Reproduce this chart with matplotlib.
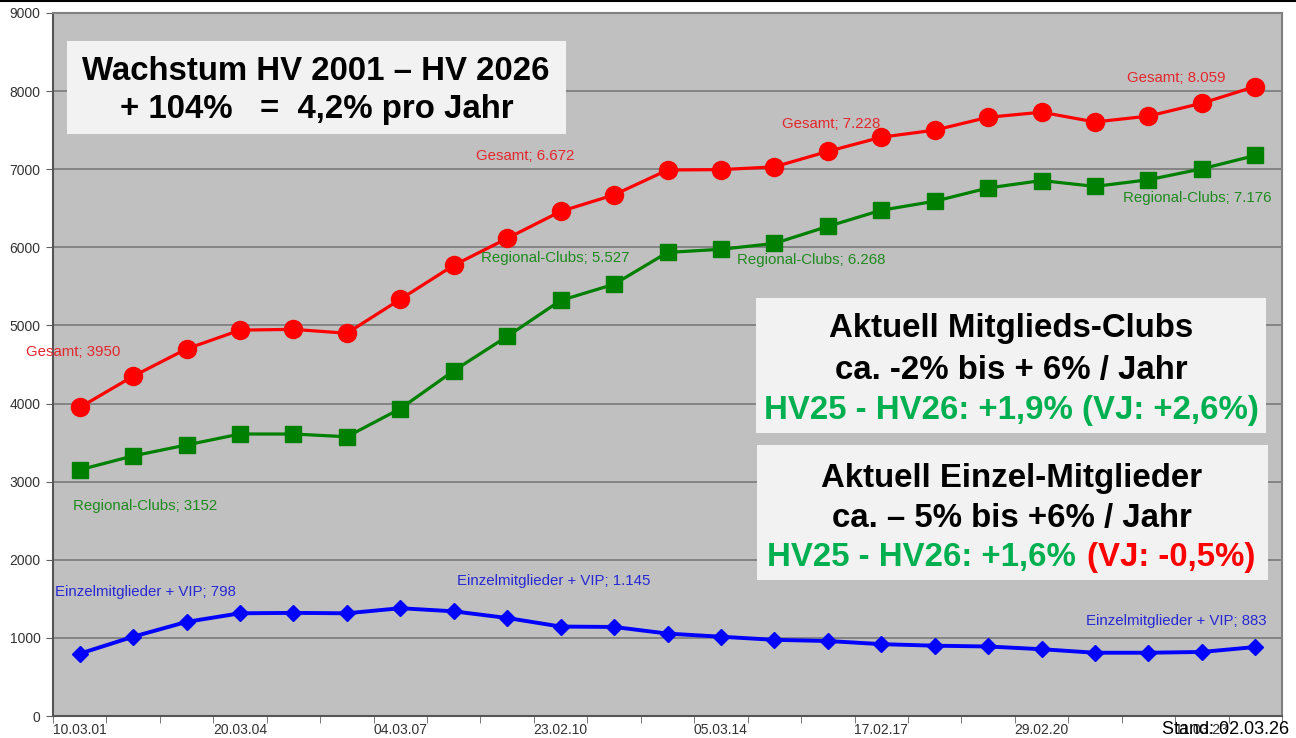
import matplotlib
matplotlib.use('Agg')
import matplotlib.pyplot as plt
from matplotlib.patches import Rectangle
from matplotlib.lines import Line2D

# Daten
gesamt = [3950, 4350, 4700, 4940, 4950, 4900, 5335, 5770, 6115, 6460, 6672,
          6990, 6995, 7030, 7228, 7410, 7500, 7665, 7730, 7605, 7680, 7845, 8059]
regional = [3152, 3330, 3470, 3610, 3610, 3575, 3935, 4420, 4860, 5320, 5527,
            5935, 5975, 6050, 6268, 6475, 6590, 6760, 6855, 6780, 6865, 7005, 7176]
einzel = [798, 1015, 1205, 1315, 1320, 1315, 1380, 1340, 1255, 1145, 1140,
          1055, 1015, 975, 960, 920, 900, 890, 855, 810, 810, 820, 883]
x_labels = ['10.03.01', '20.03.04', '04.03.07', '23.02.10',
            '05.03.14', '17.02.17', '29.02.20', '11.03.23']
y_ticks = [0, 1000, 2000, 3000, 4000, 5000, 6000, 7000, 8000, 9000]

W, H = 1296, 738
FONT = ['Liberation Sans', 'DejaVu Sans']
plt.rcParams['font.family'] = FONT

fig = plt.figure(figsize=(W / 100, H / 100), dpi=100)
ax = fig.add_axes([53 / W, 22 / H, 1229 / W, 703 / H])
ax.set_facecolor('#c0c0c0')

n = len(gesamt)
xs = list(range(n))

ax.plot(xs, gesamt, color='#ff0000', lw=2.3, marker='o', ms=13, zorder=4)
ax.plot(xs, regional, color='#008000', lw=2.3, marker='s', ms=11, zorder=4)
ax.plot(xs, einzel, color='#0000ff', lw=2.8, marker='D', ms=8, zorder=4)

ax.set_xlim(-0.5, n - 0.5)
ax.set_ylim(0, 9000)
ax.set_yticks(y_ticks)
ax.set_yticklabels([str(v) for v in y_ticks])
ax.set_xticks(range(0, n, 3))
ax.set_xticklabels(x_labels)
ax.set_xticks([i - 0.5 for i in range(n + 1)], minor=True)
ax.tick_params(axis='x', which='major', length=0, pad=5, labelsize=10, labelcolor='#333333')
ax.tick_params(axis='x', which='minor', length=5, color='#606060', direction='out')
ax.tick_params(axis='y', length=5, color='#606060', pad=4, labelsize=10, labelcolor='#333333')
ax.grid(axis='y', color='#7a7a7a', lw=1.2, zorder=1)
ax.set_axisbelow(True)
for side in ['left', 'bottom']:
    ax.spines[side].set_color('#555555')
    ax.spines[side].set_linewidth(1.5)
for side in ['top', 'right']:
    ax.spines[side].set_color('#808080')
    ax.spines[side].set_linewidth(1.5)


def fmt(i, v):
    return str(v) if i == 0 else f'{v:,}'.replace(',', '.')


series = {'Gesamt': (gesamt, '#e4262c'),
          'Regional-Clubs': (regional, '#1f8a1f'),
          'Einzelmitglieder + VIP': (einzel, '#2828d4')}

# Datenbeschriftungen: (Reihe, Index, dx, dy) in Pixel
spots = [('Gesamt', 0, -7, 55), ('Regional-Clubs', 0, 65, -36), ('Einzelmitglieder + VIP', 0, 66, 62),
         ('Gesamt', 10, -89, 39), ('Regional-Clubs', 10, -59, 26), ('Einzelmitglieder + VIP', 9, -7, 46),
         ('Gesamt', 14, 3, 27), ('Regional-Clubs', 14, -17, -34),
         ('Gesamt', 22, -79, 9), ('Regional-Clubs', 22, -58, -43), ('Einzelmitglieder + VIP', 22, -79, 26)]
for name, i, dx, dy in spots:
    vals, col = series[name]
    ax.annotate(f'{name}; {fmt(i, vals[i])}', xy=(i, vals[i]), xytext=(dx, dy),
                textcoords='offset pixels', ha='center', va='center',
                fontsize=10.8, color=col, zorder=5)


def box(x0, y0, x1, y1):
    fig.add_artist(Rectangle((x0 / W, 1 - y1 / H), (x1 - x0) / W, (y1 - y0) / H,
                             transform=fig.transFigure, facecolor='#f2f2f2',
                             edgecolor='none', zorder=5))


def line(x, y, s, color='black', ha='center', size=23.8):
    return fig.text(x / W, 1 - y / H, s, ha=ha, va='baseline', fontsize=size,
                    fontweight='bold', color=color, zorder=6)


box(67, 41, 566, 134)
line(316, 80, 'Wachstum HV 2001 – HV 2026')
line(317, 118, '+ 104%   =  4,2% pro Jahr')

box(756, 298, 1266, 433)
line(1011, 337, 'Aktuell Mitglieds-Clubs')
line(1011, 379, 'ca. -2% bis + 6% / Jahr')
line(1011, 419, 'HV25 - HV26: +1,9% (VJ: +2,6%)', color='#00b050')

box(757, 445, 1268, 580)
line(1012, 487, 'Aktuell Einzel-Mitglieder')
line(1012, 527, 'ca. – 5% bis +6% / Jahr')
g = line(767, 566, 'HV25 - HV26: +1,6%', color='#00b050', ha='left')
fig.canvas.draw()
x_end = g.get_window_extent().x1
line(x_end + 11, 566, '(VJ: -0,5%)', color='#ff0000', ha='left')

fig.text(1289 / W, 1 - 734 / H, 'Stand: 02.03.26', ha='right', va='baseline',
         fontsize=13, color='black', zorder=6)
fig.add_artist(Line2D([0, 1], [1 - 1 / H, 1 - 1 / H], color='black', lw=1.5,
                      transform=fig.transFigure))

fig.savefig('out.png', dpi=100)
